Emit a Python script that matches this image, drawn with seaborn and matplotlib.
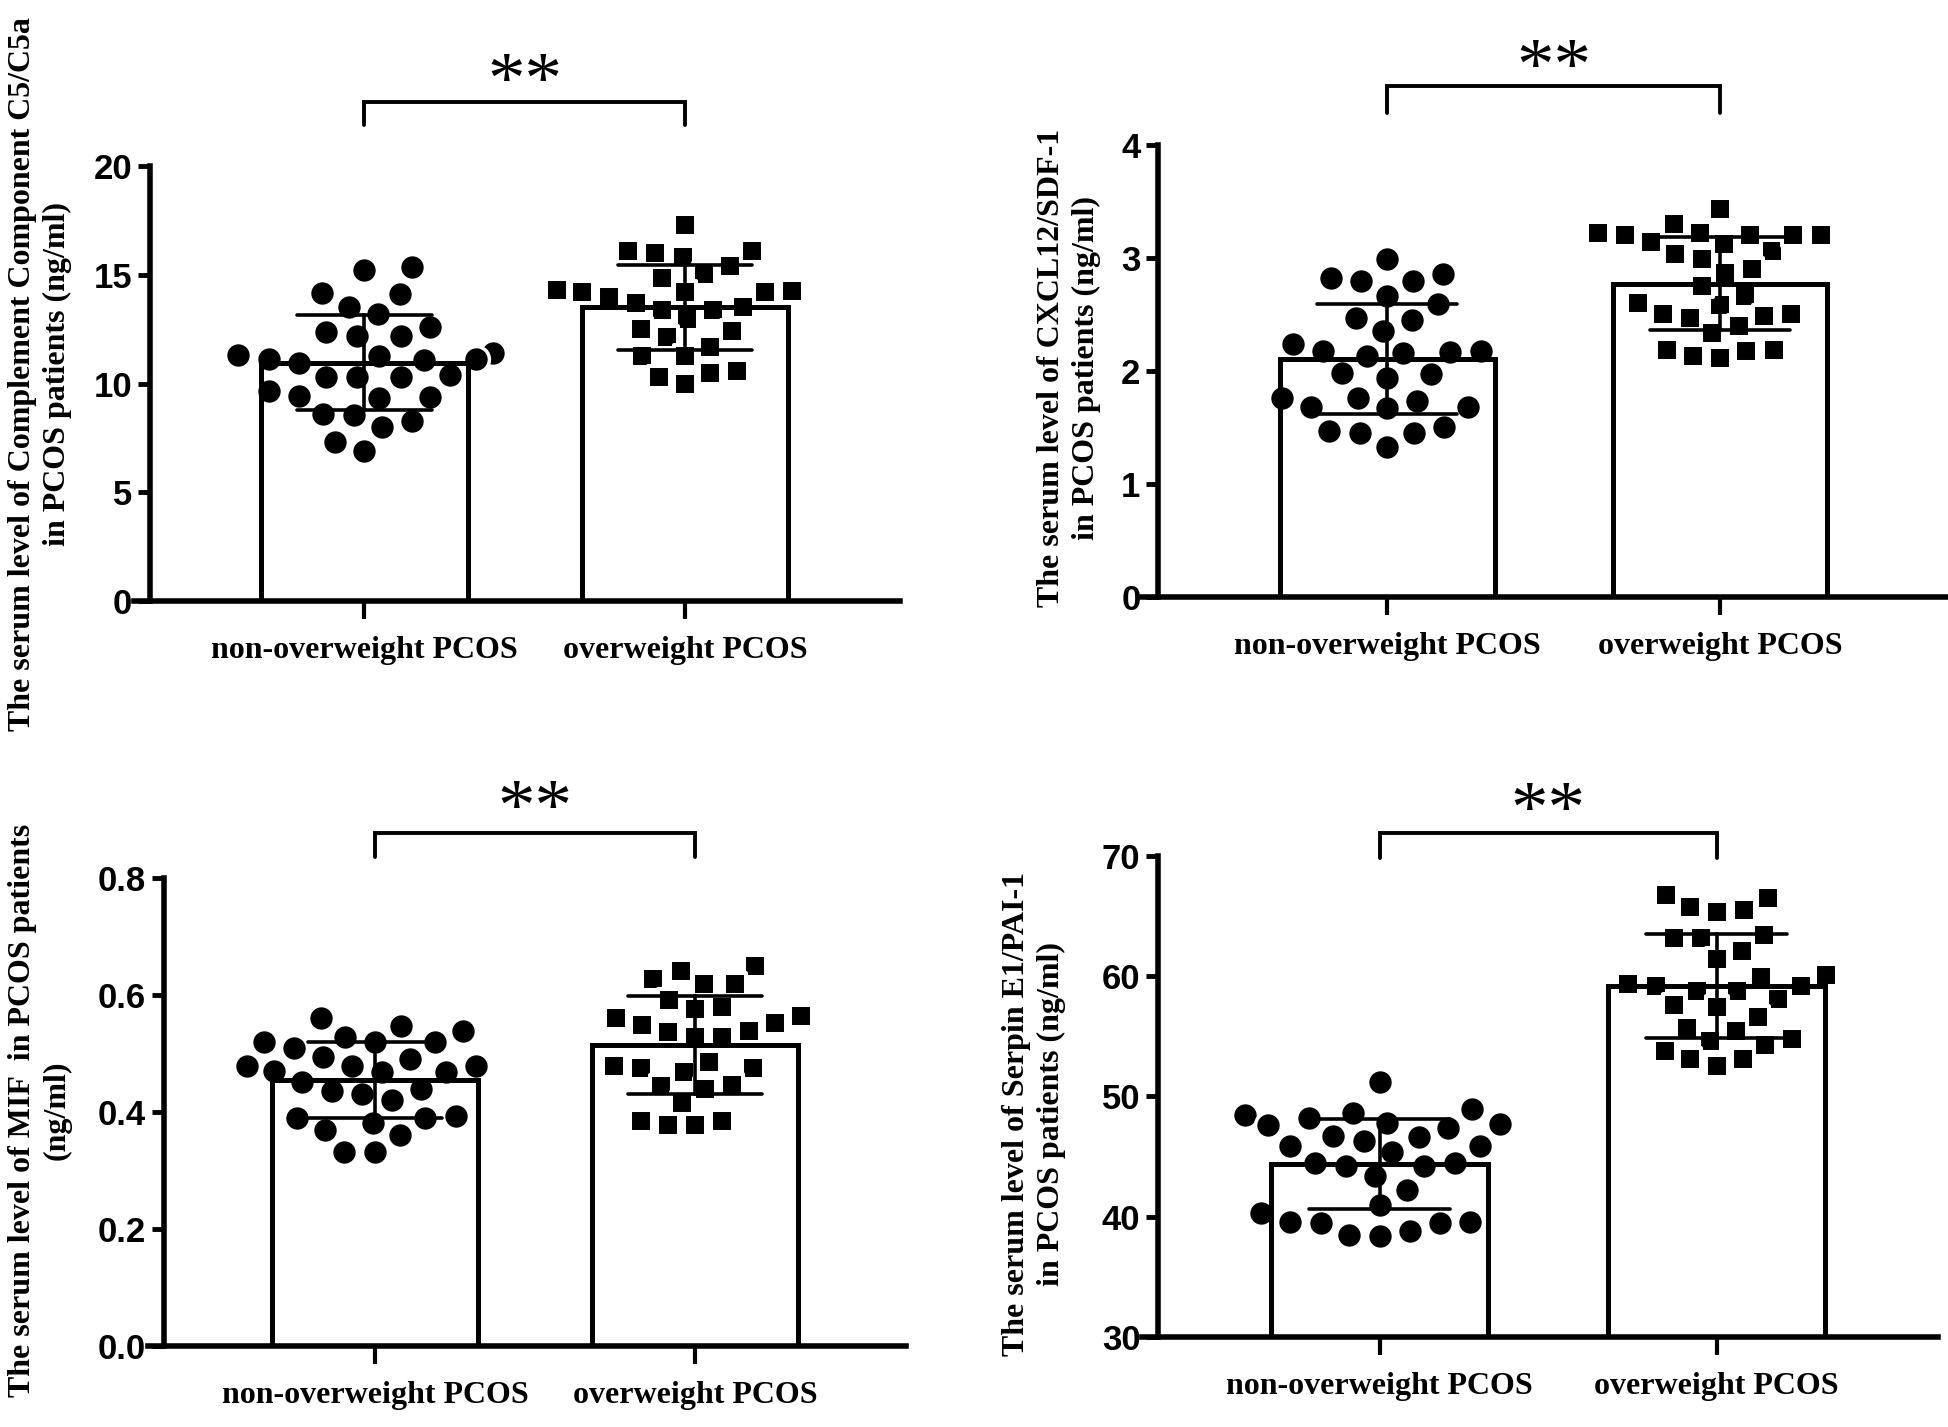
import matplotlib
matplotlib.use("Agg")
import matplotlib.pyplot as plt
import matplotlib.transforms as mtransforms
import pandas as pd
import seaborn as sns

groups = ["non-overweight PCOS", "overweight PCOS"]

# values (one entry per dot)
c5_non = [15.35, 15.2, 14.1, 14.15, 13.5, 13.2, 12.6, 12.2, 12.35, 12.2, 11.4, 11.3, 11.15,
          11.25, 11.1, 11.15, 10.95, 10.4, 10.3, 10.3, 10.3, 9.65, 9.45, 9.4, 9.35, 8.6,
          8.55, 8.3, 8.0, 7.3, 6.9]
c5_over = [17.3, 16.1, 16.1, 15.8, 16.0, 15.4, 15.05, 14.85, 14.3, 14.2, 14.25, 14.2, 14.2,
           14.0, 13.7, 13.4, 13.4, 13.5, 12.95, 12.5, 12.4, 12.15, 11.7, 11.25, 11.25, 10.6,
           10.5, 10.3, 10.0]

cxcl_non = [2.99, 2.86, 2.82, 2.80, 2.80, 2.66, 2.59, 2.47, 2.45, 2.35, 2.24, 2.18, 2.18,
            2.17, 2.16, 2.13, 1.98, 1.97, 1.94, 1.76, 1.76, 1.74, 1.68, 1.68, 1.67, 1.51,
            1.47, 1.45, 1.45, 1.33]
cxcl_over = [3.30, 3.12, 3.14, 2.50, 2.34, 2.13, 3.22, 3.06, 2.66, 2.50, 3.43, 3.22, 2.99,
             2.58, 2.40, 2.18, 3.20, 3.03, 2.87, 2.60, 2.19, 3.20, 2.90, 2.47, 2.12, 3.20,
             2.75, 2.49, 2.19, 3.20]

mif_non = [0.560, 0.548, 0.538, 0.529, 0.520, 0.520, 0.520, 0.510, 0.494, 0.490, 0.479,
           0.479, 0.479, 0.471, 0.468, 0.468, 0.451, 0.440, 0.436, 0.430, 0.420, 0.393,
           0.389, 0.389, 0.381, 0.370, 0.360, 0.331, 0.331]
mif_over = [0.650, 0.642, 0.619, 0.627, 0.619, 0.591, 0.580, 0.577, 0.560, 0.564, 0.553,
            0.549, 0.539, 0.537, 0.529, 0.529, 0.486, 0.479, 0.475, 0.475, 0.468, 0.447,
            0.444, 0.440, 0.416, 0.385, 0.385, 0.377, 0.377]

pai_non = [51.2, 48.95, 48.6, 48.5, 48.2, 47.8, 47.7, 47.6, 47.4, 46.7, 46.6, 46.3, 45.9,
           45.9, 45.4, 44.5, 44.5, 44.2, 44.2, 43.4, 42.2, 41.0, 40.3, 39.6, 39.6, 39.5,
           39.5, 38.8, 38.5, 38.4]
pai_over = [66.5, 66.7, 65.7, 65.5, 65.3, 63.4, 63.2, 63.2, 62.1, 61.4, 60.1, 59.9, 59.3,
            58.8, 59.2, 59.2, 58.8, 58.1, 57.4, 57.6, 56.6, 55.7, 55.4, 54.8, 54.6, 54.3,
            53.8, 53.1, 53.1, 52.5]

ylabels = [
    "The serum level of Complement Component C5/C5a\nin PCOS patients (ng/ml)",
    "The serum level of CXCL12/SDF-1\nin PCOS patients (ng/ml)",
    "The serum level of MIF  in PCOS patients\n(ng/ml)",
    "The serum level of Serpin E1/PAI-1\nin PCOS patients (ng/ml)",
]
yticks = [[0, 5, 10, 15, 20], [0, 1, 2, 3, 4],
          [0.0, 0.2, 0.4, 0.6, 0.8], [30, 40, 50, 60, 70]]
yticklabels = [["0", "5", "10", "15", "20"], ["0", "1", "2", "3", "4"],
               ["0.0", "0.2", "0.4", "0.6", "0.8"], ["30", "40", "50", "60", "70"]]

sns.set_theme(style="ticks")
plt.rcParams["font.family"] = ["Liberation Serif", "DejaVu Serif"]

W, H = 1568, 1144  # layout grid in reference pixels
TICKFONT = ["Liberation Sans Narrow", "Liberation Sans", "DejaVu Sans"]

# layout: axes box (left, top, right, bottom), xlim, bracket top/leg, stars, label centre
layout = [
    dict(box=(121, 133, 724, 482), xlim=(-0.667, 1.67), br=(1.146, 1.095), st=1.186, lab=(32, 300)),
    dict(box=(932, 116, 1566, 479), xlim=(-0.687, 1.68), br=(1.13, 1.069), st=1.163, lab=(860, 295)),
    dict(box=(132, 704, 729, 1079), xlim=(-0.66, 1.66), br=(1.096, 1.045), st=1.141, lab=(32, 890)),
    dict(box=(932, 686, 1559, 1072), xlim=(-0.657, 1.657), br=(1.047, 0.995), st=1.086, lab=(832, 893)),
]
series = [(c5_non, c5_over), (cxcl_non, cxcl_over), (mif_non, mif_over), (pai_non, pai_over)]

fig = plt.figure(figsize=(19.49, 14.27), dpi=100)

for i, ((non, over), lay) in enumerate(zip(series, layout)):
    l, t, r, b = lay["box"]
    ax = fig.add_axes([l / W, 1 - b / H, (r - l) / W, (b - t) / H])
    df = pd.DataFrame({"group": [groups[0]] * len(non) + [groups[1]] * len(over),
                       "value": non + over})

    sns.barplot(data=df, x="group", y="value", order=groups, errorbar="sd", capsize=0.42,
                width=0.645, color="white", edgecolor="black", linewidth=3.6,
                err_kws={"color": "black", "linewidth": 2.6}, ax=ax)
    for ln in ax.lines:
        ln.set_zorder(6)

    # white rims leave the small gaps between dots seen in the Prism layout
    sns.swarmplot(data=df[df.group == groups[0]], x="group", y="value", order=groups,
                  marker="o", color="black", size=18.6, linewidth=2.5, edgecolor="white", ax=ax)
    sns.swarmplot(data=df[df.group == groups[1]], x="group", y="value", order=groups,
                  marker="s", color="black", size=15.8, linewidth=2.9, edgecolor="white", ax=ax)

    # bar outlines drawn again on top of the dots
    n_before = len(ax.patches)
    sns.barplot(data=df, x="group", y="value", order=groups, errorbar=None, width=0.645,
                fill=False, edgecolor="black", linewidth=3.6, ax=ax)
    for p in ax.patches[n_before:]:
        p.set_zorder(5)

    x0, x1 = lay["xlim"]
    ax.set_xlim(x0, x1)
    ax.set_ylim(yticks[i][0], yticks[i][-1])
    ax.set_yticks(yticks[i])
    ax.set_yticklabels(yticklabels[i], fontfamily=TICKFONT, fontweight="bold", fontsize=25)
    ax.set_xticks([0, 1])
    ax.set_xticklabels(groups, fontfamily=["Liberation Serif"], fontweight="bold", fontsize=23)
    ax.set_xlabel("")
    ax.set_ylabel("")
    sns.despine(ax=ax)
    for s in ["left", "bottom"]:
        ax.spines[s].set_linewidth(4)
        ax.spines[s].set_color("black")
    # Prism-style x axis that starts a little to the left of the y axis
    ax.spines["bottom"].set_bounds(x0 - 0.05, x1)
    ax.tick_params(axis="x", direction="out", length=13, width=3, pad=12, colors="black")
    ax.tick_params(axis="y", direction="out", length=9, width=3.5, pad=4, colors="black")

    # significance bracket
    trans = mtransforms.blended_transform_factory(ax.transData, ax.transAxes)
    top, leg = lay["br"]
    ax.plot([0, 0, 1, 1], [leg, top, top, leg], transform=trans, clip_on=False,
            color="black", linewidth=2.8, solid_joinstyle="miter")
    ax.text(0.5, lay["st"], "**", transform=trans, ha="center", va="center",
            fontsize=54, color="black", fontfamily=["Liberation Serif"])

    lx, ly = lay["lab"]
    fig.text(lx / W, 1 - ly / H, ylabels[i], rotation=90, ha="center", va="center",
             multialignment="center", fontsize=23, fontweight="bold", linespacing=1.25,
             color="black")

fig.savefig("out.png", dpi=100)
